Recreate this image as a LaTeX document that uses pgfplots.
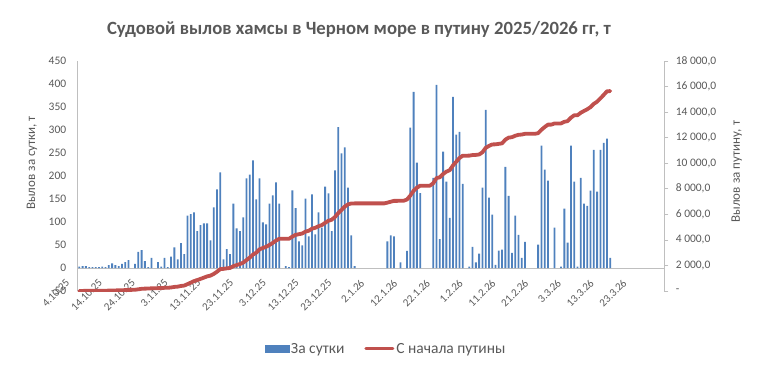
\documentclass[border=0pt]{standalone}
\usepackage{pgfplots}
\pgfplotsset{compat=1.18}
\usepackage{fontspec}
\setmainfont{Carlito}
\definecolor{barblue}{HTML}{4F81BD}
\definecolor{linered}{HTML}{C0504D}
\definecolor{txt}{HTML}{595959}
\definecolor{axgray}{HTML}{BFBFBF}
\begin{document}
\begin{tikzpicture}
\path[use as bounding box] (-77.7bp,-80bp) rectangle (683.3bp,291bp);
\begin{axis}[
  at={(0,0)}, anchor=south west, scale only axis,
  width=586.6bp, height=230bp,
  xmin=-0.5, xmax=178.5, ymin=-50, ymax=450,
  axis y line*=left, axis x line*=bottom,
  x axis line style={draw=none},
  y axis line style={draw=axgray, line width=0.75bp, -},
  major tick length=0pt,
  ytick={-50,0,...,450},
  xtick={0,10,...,170},
  xticklabels={4.10.25,14.10.25,24.10.25,3.11.25,13.11.25,23.11.25,3.12.25,13.12.25,23.12.25,2.1.26,12.1.26,22.1.26,1.2.26,11.2.26,21.2.26,3.3.26,13.3.26,23.3.26},
  every x tick label/.append style={font=\fontsize{11bp}{13bp}\selectfont, text=txt, rotate=45, anchor=east, yshift=15bp, xshift=2bp},
  yticklabel style={font=\fontsize{11.5bp}{13bp}\selectfont, text=txt, xshift=-8bp},
  /pgf/number format/assume math mode=true,
  ylabel={Вылов за сутки, т},
  ylabel style={at={(axis description cs:-0.078,0.557)}, anchor=center, font=\fontsize{13bp}{15bp}\selectfont, text=txt},
  extra y ticks={0}, extra y tick labels={},
  extra y tick style={grid=major, major grid style={draw=axgray, line width=0.75bp}},
  ybar, bar width=1.8bp,
]
\addplot[fill=barblue, draw=none, bar shift=0pt] coordinates {
(0,3)(1,4)(2,4)(3,2)(4,2)(5,2)(6,2)(7,3)(8,2)(9,6)(10,10)(11,6)(12,4)(13,9)(14,13)(15,17)(17,9)(18,35)(19,39)(20,15)(21,2)(22,22)(24,13)(25,3)(26,22)(27,2)(28,25)(29,45)(30,19)(31,54)(32,30)(33,114)(34,117)(35,121)(36,80)(37,93)(38,97)(39,97)(40,60)(41,132)(42,171)(43,208)(44,19)(45,41)(46,30)(47,140)(48,86)(49,80)(50,110)(51,195)(52,203)(53,234)(54,149)(55,195)(56,99)(57,95)(58,140)(59,158)(60,186)(61,140)(63,4)(64,2)(65,169)(66,130)(67,58)(68,49)(69,151)(70,69)(71,160)(72,73)(73,121)(74,88)(75,177)(76,162)(77,80)(78,212)(79,306)(80,249)(81,262)(82,175)(83,71)(84,4)(94,58)(95,71)(96,69)(98,12)(100,37)(101,305)(102,383)(103,229)(104,163)(108,196)(109,398)(110,63)(111,253)(112,188)(113,109)(114,372)(115,290)(116,296)(117,183)(119,3)(120,46)(121,12)(122,31)(123,175)(124,344)(125,153)(126,116)(127,7)(128,38)(129,40)(130,220)(131,157)(132,33)(133,114)(134,72)(135,22)(136,57)(140,51)(141,266)(142,214)(143,190)(145,88)(147,3)(148,129)(149,55)(150,266)(151,188)(152,3)(153,196)(154,140)(155,135)(156,168)(157,257)(158,166)(159,257)(160,272)(161,281)(162,22)
};
\end{axis}
\begin{axis}[
  at={(0,0)}, anchor=south west, scale only axis,
  width=586.6bp, height=230bp,
  xmin=-0.5, xmax=178.5, ymin=0, ymax=18000,
  axis y line*=right, axis x line=none,
  y axis line style={draw=axgray, line width=0.75bp, -},
  ytick style={draw=axgray, line width=0.75bp},
  major tick length=4bp, tick align=outside,
  ytick={0,2000,...,18000},
  yticklabels={{-},{2 000,0},{4 000,0},{6 000,0},{8 000,0},{10 000,0},{12 000,0},{14 000,0},{16 000,0},{18 000,0}},
  yticklabel style={font=\fontsize{11.5bp}{13bp}\selectfont, text=txt, xshift=4bp},
  scaled y ticks=false,
  ylabel={Вылов за путину, т},
  ylabel style={at={(axis description cs:1.1235,0.519)}, anchor=center, font=\fontsize{13bp}{15bp}\selectfont, text=txt},
  legend columns=2,
  legend style={at={(axis description cs:0.5256,-0.252)}, anchor=center, draw=none, fill=none,
    font=\fontsize{15.5bp}{17bp}\selectfont, text=txt, nodes={inner sep=2bp},
    /tikz/every even column/.append style={column sep=18bp}},
]
\addlegendimage{legend image code/.code={\fill[barblue] (0bp,-3.5bp) rectangle (24bp,3.5bp);}}
\addlegendentry{За сутки}
\addplot[linered, line width=3.8bp, line join=round, line cap=round, mark=none,
  legend image code/.code={\draw[linered, line width=3bp] (0bp,0bp) -- (27bp,0bp);}] coordinates {
(0,3)(1,7)(2,11)(3,13)(4,15)(5,17)(6,19)(7,22)(8,24)(9,30)(10,40)(11,46)(12,50)(13,59)(14,72)(15,89)(16,89)(17,98)(18,133)(19,172)(20,187)(21,189)(22,211)(23,211)(24,224)(25,227)(26,249)(27,251)(28,276)(29,321)(30,340)(31,394)(32,424)(33,538)(34,655)(35,776)(36,856)(37,949)(38,1046)(39,1143)(40,1203)(41,1335)(42,1506)(43,1714)(44,1733)(45,1774)(46,1804)(47,1944)(48,2030)(49,2110)(50,2220)(51,2415)(52,2618)(53,2852)(54,3001)(55,3266)(56,3365)(57,3460)(58,3600)(59,3758)(60,3944)(61,4084)(62,4084)(63,4088)(64,4090)(65,4259)(66,4389)(67,4447)(68,4496)(69,4647)(70,4716)(71,4876)(72,4949)(73,5070)(74,5158)(75,5335)(76,5497)(77,5577)(78,5789)(79,6095)(80,6344)(81,6606)(82,6781)(83,6852)(84,6856)(93,6856)(94,6914)(95,6985)(96,7054)(97,7054)(98,7066)(99,7066)(100,7163)(101,7468)(102,7851)(103,8080)(104,8243)(107,8243)(108,8439)(109,8837)(110,8900)(111,9153)(112,9341)(113,9450)(114,9822)(115,10112)(116,10408)(117,10591)(118,10591)(119,10594)(120,10640)(121,10652)(122,10683)(123,10858)(124,11202)(125,11355)(126,11471)(127,11478)(128,11516)(129,11556)(130,11846)(131,12003)(132,12036)(133,12150)(134,12222)(135,12244)(136,12301)(139,12301)(140,12352)(141,12618)(142,12832)(143,13022)(144,13022)(145,13110)(146,13110)(147,13113)(148,13242)(149,13297)(150,13563)(151,13751)(152,13754)(153,13950)(154,14090)(155,14225)(156,14393)(157,14650)(158,14816)(159,15073)(160,15345)(161,15626)(162,15648)
};
\addlegendentry{С начала путины}
\end{axis}
\node[font=\bfseries\fontsize{18.7bp}{22bp}\selectfont, text=txt] at (281.3bp,262bp) {Судовой вылов хамсы в Черном море в путину 2025/2026 гг, т};
\end{tikzpicture}
\end{document}
